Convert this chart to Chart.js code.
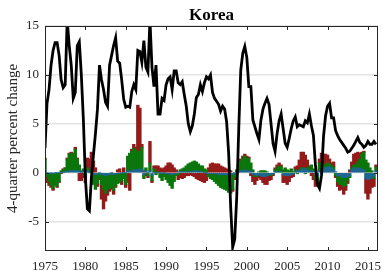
<!DOCTYPE html>
<html>
<head>
<meta charset="utf-8">
<script src="https://cdn.jsdelivr.net/npm/chart.js@4.4.1/dist/chart.umd.min.js"></script>
<style>
  html, body { margin: 0; padding: 0; background: #fff; }
  canvas { display: block; }
</style>
</head>
<body>
<canvas id="korea" width="382" height="271"></canvas>
<script>
// Quarterly series, 1975Q1 .. 2016Q1 (one row per year)
const firstYear = 1975;

const lineValues = [
  2.5, 7.1, 8.5, 11.0,
  12.5, 13.3, 13.3, 12.0,
  9.5, 8.7, 9.0, 15.6,
  13.0, 11.0, 7.6, 8.2,
  13.0, 13.4, 10.0, 5.5,
  -0.5, -3.7, -3.9, -0.5,
  1.8, 4.0, 6.5, 11.0,
  9.5, 8.5, 7.2, 6.8,
  11.0, 12.0, 13.0, 13.8,
  11.4, 11.2, 9.5, 7.5,
  6.7, 6.8, 6.7, 8.3,
  9.0, 8.5, 12.5, 12.4,
  11.3, 13.5, 10.8, 10.3,
  15.6, 10.8, 8.8, 11.0,
  6.0, 6.0, 7.6, 7.4,
  9.0, 9.6, 9.8, 8.5,
  10.4, 10.4, 9.2, 9.0,
  9.3, 8.0, 6.8, 5.0,
  4.2, 4.8, 6.0, 7.7,
  8.0, 9.0, 8.3, 9.2,
  9.8, 9.6, 10.0, 8.2,
  7.6, 7.3, 7.0, 6.3,
  6.8, 6.5, 5.2, 2.0,
  -3.5, -7.6, -6.8, -2.5,
  4.5, 10.5, 12.2, 12.9,
  11.8, 8.8, 8.8, 5.4,
  4.7, 4.0, 3.4, 5.4,
  6.5, 7.1, 7.6, 7.0,
  5.0, 3.0, 2.2, 4.0,
  5.3, 6.0, 4.5, 3.0,
  2.6, 3.5, 4.5, 5.3,
  5.7, 4.7, 4.9, 4.8,
  4.7, 5.3, 5.1, 6.0,
  4.8, 3.8, 0.8, -1.2,
  -1.6, -0.3, 3.7, 5.8,
  6.8, 7.1, 5.6, 5.6,
  4.3, 3.8, 3.4, 3.1,
  2.8, 2.5, 2.1, 2.2,
  2.5, 2.8, 3.2, 3.6,
  3.1, 2.9, 2.6, 2.8,
  3.2, 2.9, 2.9, 3.2,
  2.9
];

const blueValues = [
  0.1, 0, -0.1, 0,
  -0.1, 0, 0, 0,
  0, 0, 0.1, 0.1,
  0.2, 0.2, 0.2, 0.2,
  0.2, 0.2, 0, 0.2,
  0, 0.2, 0, 0,
  -0.2, -0.2, -0.1, 0,
  -0.2, -0.2, -0.3, -0.2,
  -0.2, 0, -0.2, -0.1,
  -0.1, -0.1, 0, 0,
  0, 0.2, 0.2, 0.2,
  0.3, 0.3, 0.3, 0.4,
  0.3, -0.2, 0.2, 0,
  0.2, -0.3, 0, 0,
  0, 0, -0.1, 0,
  -0.1, -0.1, -0.1, -0.2,
  -0.1, -0.1, 0.1, 0.1,
  0.1, 0.1, 0.1, 0.1,
  0.1, 0.1, 0.2, 0.2,
  0.1, 0.1, 0.1, 0,
  0, -0.1, -0.1, -0.1,
  -0.1, -0.1, -0.2, -0.2,
  -0.2, -0.2, -0.2, -0.2,
  -0.2, -0.2, 0, 0,
  0.1, 0.2, 0.2, 0.3,
  0.2, 0.2, 0.2, -0.2,
  -0.2, -0.3, -0.2, -0.3,
  -0.4, -0.4, -0.3, -0.2,
  -0.2, -0.1, 0.1, 0.1,
  0.1, 0.1, -0.2, -0.3,
  -0.3, -0.3, -0.2, -0.1,
  0.1, 0.2, 0.2, 0.3,
  0.4, 0.4, 0.3, 0.2,
  0.2, 0.1, -0.2, -0.3,
  0.2, 0.3, 0.4, 0.5,
  0.6, 0.6, 0.5, 0.3,
  0.1, -0.3, -0.3, -0.4,
  -0.5, -0.5, -0.4, -0.3,
  0.3, 0.5, 0.4, 0.5,
  0.4, 0.4, 0.3, -0.6,
  -0.7, -0.6, -0.5, -0.3,
  0.2
];

const greenValues = [
  1.3, -0.4, -0.8, -1.3,
  -1.5, -1.2, -1.4, -0.9,
  0.2, 0.3, 0.4, 1.3,
  1.7, 1.8, 1.7, 2.2,
  1.2, 0.6, 0.2, 0.2,
  -0.3, 0.3, 0.2, 0.3,
  -1.0, -1.5, -1.0, -0.5,
  -1.0, -1.5, -1.8, -1.5,
  -1.4, -1.5, -1.6, -1.2,
  -1.0, -0.9, -0.8, -0.6,
  -1.2, 1.5, 1.8, 2.0,
  2.2, 2.0, 1.8, 1.8,
  2.3, -0.4, 0.3, -0.3,
  0.8, -0.5, 0.4, -0.2,
  0.1, -0.5, -0.7, -0.4,
  -0.6, -0.9, -1.2, -1.4,
  -0.8, -0.2, -0.2, 0.2,
  0.3, 0.4, 0.6, 0.8,
  0.9, 1.0, 1.0, 0.9,
  0.8, 0.6, 0.6, 0.4,
  0.3, -0.3, -0.5, -0.6,
  -0.8, -1.0, -1.1, -1.3,
  -1.4, -1.5, -1.6, -1.8,
  -1.9, -1.5, -0.5, 0.2,
  0.5, 1.0, 1.3, 1.4,
  1.2, 1.3, 0.8, 0.3,
  -0.2, -0.1, 0.1, 0.2,
  0.2, 0.2, 0.1, 0,
  -0.1, 0, 0.2, 0.4,
  0.6, 0.5, 0.3, 0.5,
  0.3, 0.2, 0.4, 0.1,
  0.2, -0.1, 0.1, 0.2,
  0.1, -0.1, 0.2, 0.4,
  0.6, 0.3, -0.4, -0.6,
  0.8, 0.7, 0.4, 0.3,
  0.4, 0.3, 0.2, 0.3,
  -0.3, -0.6, -0.9, -0.8,
  -0.9, -0.8, -0.4, -0.2,
  0.2, 0.3, 0.4, 0.6,
  1.0, 1.5, 1.8, 1.3,
  1.0, 0.5, 0.2, -0.3,
  0.4
];

const redValues = [
  0.1, -0.6, -0.4, -0.2,
  -0.2, -0.1, -0.1, -0.1,
  -0.1, 0.1, 0, 0.1,
  0.1, 0.1, 0.1, 0.2,
  0.1, -0.8, -0.8, -0.5,
  -0.7, 1.0, 1.2, 1.8,
  1.2, 0.5, -0.3, -0.2,
  -1.5, -2.0, -0.8, -0.6,
  -0.3, -0.2, -0.4, -0.2,
  0.3, 0.4, -0.4, 0.5,
  -0.3, -1.0, -1.8, 0.2,
  0.4, 0.3, 4.8, 4.4,
  0.3, 0.2, -0.3, -0.2,
  2.2, -0.2, 0.3, 0.7,
  0.6, 0.5, 0.4, 0.5,
  0.7, 1.0, 1.0, 0.8,
  0.5, 0.3, -0.5, -0.5,
  -0.6, -0.5, -0.3, -0.3,
  -0.2, -0.3, -0.4, -0.6,
  -0.7, -0.8, -0.9, -1.0,
  -0.8, 0.5, 0.9, 1.0,
  0.9, 0.9, 0.9, 0.7,
  0.6, 0.5, 0.4, 0.3,
  0.2, -0.2, -0.2, 0.1,
  0.1, 0.2, 0.2, 0.2,
  0.3, 0.1, -0.3, -0.7,
  -0.8, -0.4, -0.3, -0.4,
  -0.6, -0.8, -0.9, -0.6,
  -0.4, -0.2, 0.2, 0.3,
  0.3, 0.2, -0.8, -0.7,
  -0.9, -0.6, -0.3, -0.3,
  0.3, 0.5, 1.0, 1.6,
  1.6, 1.4, 0.8, 0.1,
  -0.3, -0.7, -0.8, -0.3,
  0.4, 1.0, 1.1, 1.1,
  0.8, 0.5, 0.3, 0.5,
  -0.2, -0.5, -0.6, -0.5,
  -0.8, -0.5, -0.3, 0.3,
  0.6, 1.1, 1.2, 1.0,
  0.6, 0.2, 0.1, -1.5,
  -2.0, -1.5, -1.0, -0.8,
  0.2
];

const xTicks = [1975, 1980, 1985, 1990, 1995, 2000, 2005, 2010, 2015];
const yTicks = [-5, 0, 5, 10, 15];

const quarterYears = lineValues.map((v, i) => firstYear + i / 4);
const toPoints = values => values.map((v, i) => ({ x: quarterYears[i], y: v }));

const serif = "'Liberation Serif', serif";
const axisColor = '#262626';
Chart.defaults.font.family = serif;

// MATLAB-style box around the axes with inward tick marks, plus the title
const boxPlugin = {
  id: 'box',
  afterDraw(chart) {
    const { ctx, chartArea: a, scales: { x, y } } = chart;
    ctx.save();
    ctx.strokeStyle = axisColor;
    ctx.lineWidth = 1;
    ctx.strokeRect(a.left + 0.5, a.top + 0.5, a.right - a.left - 1, a.bottom - a.top - 1);
    ctx.beginPath();
    xTicks.forEach(v => {
      const px = Math.round(x.getPixelForValue(v)) + 0.5;
      ctx.moveTo(px, a.bottom); ctx.lineTo(px, a.bottom - 4);
      ctx.moveTo(px, a.top); ctx.lineTo(px, a.top + 4);
    });
    yTicks.forEach(v => {
      const py = Math.round(y.getPixelForValue(v)) + 0.5;
      ctx.moveTo(a.left, py); ctx.lineTo(a.left + 4, py);
      ctx.moveTo(a.right, py); ctx.lineTo(a.right - 4, py);
    });
    ctx.stroke();
    ctx.fillStyle = '#000';
    ctx.font = 'bold 17px ' + serif;
    ctx.textAlign = 'center';
    ctx.textBaseline = 'alphabetic';
    ctx.fillText('Korea', (a.left + a.right) / 2, 20);
    ctx.restore();
  }
};

const barStyle = {
  borderWidth: 0,
  inflateAmount: 0.4,
  categoryPercentage: 1,
  barPercentage: 1.3,
  stack: 'parts',
  order: 1
};

new Chart(document.getElementById('korea'), {
  type: 'bar',
  data: {
    datasets: [
      {
        type: 'line',
        data: toPoints(lineValues),
        borderColor: '#000',
        borderWidth: 2.8,
        pointRadius: 0,
        tension: 0,
        stack: 'line',
        order: 0
      },
      { ...barStyle, data: toPoints(blueValues), backgroundColor: '#1c6690' },
      { ...barStyle, data: toPoints(greenValues), backgroundColor: '#0b760b' },
      { ...barStyle, data: toPoints(redValues), backgroundColor: '#951b1b' }
    ]
  },
  options: {
    responsive: false,
    animation: false,
    devicePixelRatio: 1,
    layout: { padding: { left: 0, right: 4, top: 26, bottom: 0 } },
    plugins: {
      legend: { display: false },
      tooltip: { enabled: false }
    },
    scales: {
      x: {
        type: 'linear',
        stacked: true,
        min: 1975,
        max: 2016.25,
        offset: false,
        grid: { display: false, drawTicks: false },
        border: { display: false },
        ticks: {
          font: { family: serif, size: 13 },
          color: axisColor,
          padding: 8,
          maxRotation: 0,
          autoSkip: false,
          callback: v => String(v)
        },
        afterBuildTicks: s => { s.ticks = xTicks.map(v => ({ value: v })); },
        afterFit: s => { s.height = 20; s.paddingLeft = 0; s.paddingRight = 0; }
      },
      y: {
        stacked: true,
        min: -8,
        max: 15,
        grid: { color: '#e4e4e4', lineWidth: 1.5, drawTicks: false },
        border: { display: false },
        ticks: {
          font: { family: serif, size: 13 },
          color: axisColor,
          padding: 6,
          callback: v => String(v)
        },
        afterBuildTicks: s => { s.ticks = yTicks.map(v => ({ value: v })); },
        afterFit: s => { s.width = 45; },
        title: {
          display: true,
          text: '4-quarter percent change',
          font: { family: serif, size: 15 },
          color: axisColor,
          padding: { top: 4, bottom: 0 }
        }
      }
    }
  },
  plugins: [boxPlugin]
});
</script>
</body>
</html>
